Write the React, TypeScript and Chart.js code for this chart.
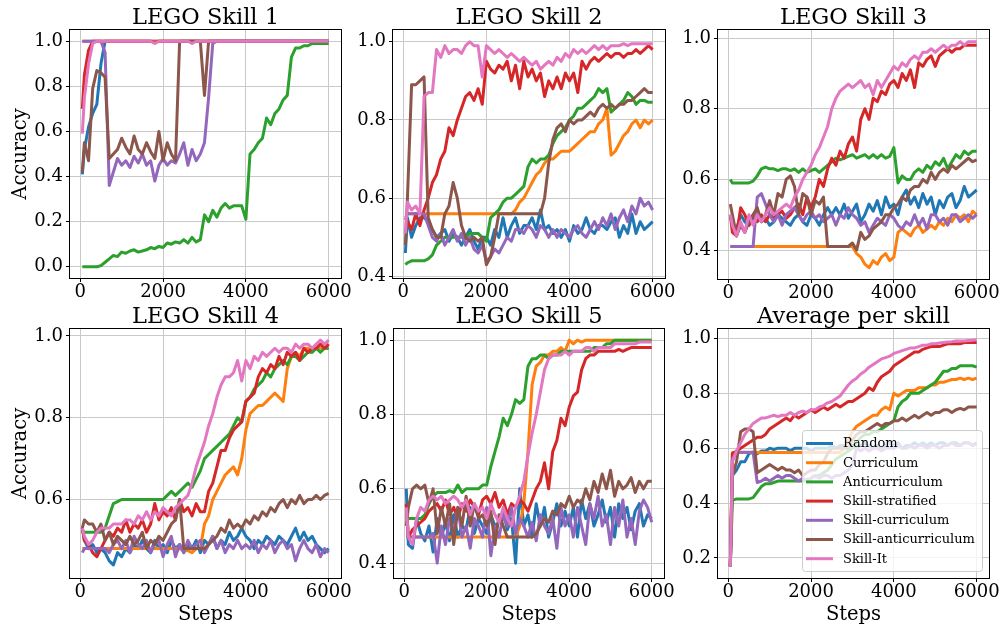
import React, { useEffect, useRef } from 'react';
import { Chart, registerables } from 'chart.js';

Chart.register(...registerables);

const FONT = "'DejaVu Serif', serif";

const STEPS = [50, 100, 200, 300, 400, 500, 600, 700, 800, 900,
  1000, 1100, 1200, 1300, 1400, 1500, 1600, 1700, 1800, 1900,
  2000, 2100, 2200, 2300, 2400, 2500, 2600, 2700, 2800, 2900,
  3000, 3100, 3200, 3300, 3400, 3500, 3600, 3700, 3800, 3900,
  4000, 4100, 4200, 4300, 4400, 4500, 4600, 4700, 4800, 4900,
  5000, 5100, 5200, 5300, 5400, 5500, 5600, 5700, 5800, 5900,
  6000];

const SERIES_NAMES = ['Random', 'Curriculum', 'Anticurriculum', 'Skill-stratified', 'Skill-curriculum', 'Skill-anticurriculum', 'Skill-It'];
const SERIES_COLORS = ['#1f77b4', '#ff7f0e', '#2ca02c', '#d62728', '#9467bd', '#8c564b', '#e377c2'];

const X_TICKS = [0, 2000, 4000, 6000];
const Y_TICKS_S1 = [0, 0.2, 0.4, 0.6, 0.8, 1.0];
const Y_TICKS_S2 = [0.4, 0.6, 0.8, 1.0];
const Y_TICKS_S3 = [0.4, 0.6, 0.8, 1.0];
const Y_TICKS_S4 = [0.6, 0.8, 1.0];
const Y_TICKS_S5 = [0.4, 0.6, 0.8, 1.0];
const Y_TICKS_AVG = [0.2, 0.4, 0.6, 0.8, 1.0];

// ---------------- LEGO Skill 1 ----------------
const S1_RANDOM = [0.41, 0.52, 0.62, 0.68, 0.72, 0.9, 1, 1, 1, 1,
  1, 1, 1, 1, 1, 1, 1, 1, 1, 1,
  1, 1, 1, 1, 1, 1, 1, 1, 1, 1,
  1, 1, 1, 1, 1, 1, 1, 1, 1, 1,
  1, 1, 1, 1, 1, 1, 1, 1, 1, 1,
  1, 1, 1, 1, 1, 1, 1, 1, 1, 1,
  1];
const S1_CURRICULUM = [1, 1, 1, 1, 1, 1, 1, 1, 1, 1,
  1, 1, 1, 1, 1, 1, 1, 1, 1, 1,
  1, 1, 1, 1, 1, 1, 1, 1, 1, 1,
  1, 1, 1, 1, 1, 1, 1, 1, 1, 1,
  1, 1, 1, 1, 1, 1, 1, 1, 1, 1,
  1, 1, 1, 1, 1, 1, 1, 1, 1, 1,
  1];
const S1_ANTI = [0, 0, 0, 0, 0, 0.005, 0.02, 0.035, 0.05, 0.045,
  0.065, 0.06, 0.07, 0.075, 0.065, 0.07, 0.075, 0.085, 0.08, 0.09,
  0.085, 0.105, 0.1, 0.11, 0.105, 0.12, 0.105, 0.13, 0.11, 0.12,
  0.23, 0.2, 0.25, 0.22, 0.26, 0.28, 0.26, 0.27, 0.27, 0.27,
  0.21, 0.5, 0.52, 0.55, 0.57, 0.66, 0.63, 0.68, 0.7, 0.74,
  0.76, 0.93, 0.97, 0.97, 0.98, 0.98, 0.99, 0.99, 0.99, 0.99,
  0.99];
const S1_STRAT = [0.7, 0.85, 0.96, 1, 1, 1, 1, 1, 1, 1,
  1, 1, 1, 1, 1, 1, 1, 1, 0.995, 1,
  1, 1, 1, 1, 1, 1, 1, 1, 1, 1,
  1, 1, 1, 1, 1, 1, 1, 1, 1, 1,
  1, 1, 1, 1, 1, 1, 1, 1, 1, 1,
  1, 1, 1, 1, 1, 1, 1, 1, 1, 1,
  1];
const S1_SKILLCURR = [1, 1, 1, 1, 1, 1, 0.95, 0.36, 0.42, 0.48,
  0.45, 0.47, 0.44, 0.49, 0.46, 0.5, 0.45, 0.47, 0.38, 0.45,
  0.48, 0.45, 0.47, 0.46, 0.5, 0.55, 0.45, 0.52, 0.47, 0.5,
  0.55, 0.75, 0.99, 1, 1, 1, 1, 1, 1, 1,
  1, 1, 1, 1, 1, 1, 1, 1, 1, 1,
  1, 1, 1, 1, 1, 1, 1, 1, 1, 1,
  1];
const S1_SKILLANTI = [0.42, 0.55, 0.47, 0.79, 0.87, 0.86, 0.84, 0.48, 0.5, 0.52,
  0.57, 0.53, 0.5, 0.58, 0.52, 0.5, 0.55, 0.51, 0.48, 0.6,
  0.47, 0.55, 0.5, 0.47, 1, 1, 1, 1, 1, 1,
  0.76, 1, 1, 1, 1, 1, 1, 1, 1, 1,
  1, 1, 1, 1, 1, 1, 1, 1, 1, 1,
  1, 1, 1, 1, 1, 1, 1, 1, 1, 1,
  1];
const S1_SKILLIT = [0.59, 0.75, 0.9, 0.99, 1, 1, 1, 1, 1, 1,
  1, 1, 1, 1, 1, 1, 1, 1, 0.99, 1,
  1, 1, 1, 1, 1, 1, 1, 0.99, 1, 1,
  1, 1, 1, 1, 1, 1, 1, 1, 1, 1,
  1, 1, 1, 1, 1, 1, 1, 1, 1, 1,
  1, 1, 1, 1, 1, 1, 1, 1, 1, 1,
  1];

// ---------------- LEGO Skill 2 ----------------
const S2_RANDOM = [0.46, 0.55, 0.5, 0.53, 0.55, 0.55, 0.54, 0.52, 0.5, 0.51,
  0.52, 0.49, 0.51, 0.5, 0.48, 0.5, 0.52, 0.49, 0.47, 0.5,
  0.5, 0.48, 0.52, 0.5, 0.55, 0.5, 0.53, 0.55, 0.51, 0.53,
  0.53, 0.55, 0.52, 0.57, 0.52, 0.53, 0.51, 0.52, 0.5, 0.52,
  0.49, 0.53, 0.51, 0.52, 0.55, 0.52, 0.51, 0.53, 0.53, 0.52,
  0.54, 0.55, 0.5, 0.53, 0.51, 0.56, 0.51, 0.54, 0.52, 0.53,
  0.54];
const S2_CURRICULUM = [0.56, 0.56, 0.56, 0.56, 0.56, 0.56, 0.56, 0.56, 0.56, 0.56,
  0.56, 0.56, 0.56, 0.56, 0.56, 0.56, 0.56, 0.56, 0.56, 0.56,
  0.56, 0.56, 0.56, 0.56, 0.56, 0.56, 0.56, 0.57, 0.59, 0.6,
  0.62, 0.64, 0.66, 0.67, 0.69, 0.7, 0.7, 0.71, 0.72, 0.72,
  0.72, 0.73, 0.74, 0.75, 0.76, 0.77, 0.77, 0.79, 0.8, 0.83,
  0.71, 0.72, 0.74, 0.76, 0.77, 0.79, 0.8, 0.78, 0.8, 0.79,
  0.8];
const S2_ANTI = [0.43, 0.435, 0.44, 0.44, 0.44, 0.44, 0.445, 0.455, 0.48, 0.49,
  0.5, 0.5, 0.5, 0.5, 0.5, 0.5, 0.51, 0.51, 0.51, 0.5,
  0.49, 0.55, 0.56, 0.57, 0.59, 0.6, 0.6, 0.61, 0.62, 0.63,
  0.68, 0.7, 0.69, 0.7, 0.7, 0.71, 0.74, 0.76, 0.77, 0.78,
  0.8, 0.81, 0.83, 0.83, 0.84, 0.85, 0.86, 0.88, 0.87, 0.88,
  0.82, 0.83, 0.84, 0.85, 0.87, 0.86, 0.84, 0.85, 0.85, 0.845,
  0.845];
const S2_STRAT = [0.55, 0.54, 0.52, 0.56, 0.53, 0.57, 0.6, 0.64, 0.66, 0.7,
  0.72, 0.78, 0.76, 0.8, 0.83, 0.86, 0.87, 0.85, 0.88, 0.84,
  0.95, 0.93, 0.92, 0.94, 0.93, 0.95, 0.9, 0.94, 0.88, 0.95,
  0.91, 0.93, 0.9, 0.92, 0.86, 0.9, 0.88, 0.91, 0.88, 0.92,
  0.9, 0.92, 0.87, 0.95, 0.93, 0.95, 0.96, 0.95, 0.96, 0.97,
  0.96, 0.97, 0.97, 0.96, 0.97, 0.97, 0.98, 0.97, 0.98, 0.99,
  0.98];
const S2_SKILLCURR = [0.55, 0.56, 0.56, 0.56, 0.56, 0.56, 0.53, 0.5, 0.49, 0.51,
  0.48, 0.5, 0.52, 0.49, 0.51, 0.48, 0.5, 0.47, 0.46, 0.48,
  0.44, 0.45, 0.47, 0.46, 0.48, 0.5, 0.49, 0.52, 0.52, 0.51,
  0.53, 0.52, 0.5, 0.53, 0.52, 0.5, 0.52, 0.5, 0.52, 0.51,
  0.5, 0.52, 0.53, 0.51, 0.5, 0.52, 0.54, 0.52, 0.55, 0.53,
  0.56, 0.52, 0.55, 0.57, 0.54, 0.58, 0.56, 0.6, 0.58, 0.59,
  0.57];
const S2_SKILLANTI = [0.48, 0.6, 0.89, 0.89, 0.9, 0.91, 0.55, 0.52, 0.5, 0.5,
  0.56, 0.58, 0.64, 0.6, 0.53, 0.5, 0.49, 0.5, 0.49, 0.5,
  0.43, 0.45, 0.5, 0.56, 0.56, 0.56, 0.56, 0.56, 0.56, 0.56,
  0.56, 0.56, 0.56, 0.56, 0.6, 0.69, 0.75, 0.78, 0.79, 0.77,
  0.8, 0.79, 0.8, 0.8, 0.81, 0.82, 0.81, 0.83, 0.84, 0.83,
  0.84, 0.83, 0.84, 0.84, 0.85, 0.85, 0.86, 0.87, 0.88, 0.87,
  0.87];
const S2_SKILLIT = [0.51, 0.59, 0.57, 0.58, 0.56, 0.86, 0.87, 0.87, 0.98, 0.96,
  0.99, 0.97, 0.98, 0.98, 0.97, 0.99, 1, 0.99, 0.99, 0.91,
  0.99, 0.98, 0.97, 0.98, 0.97, 0.96, 0.97, 0.96, 0.95, 0.96,
  0.95, 0.94, 0.95, 0.93, 0.94, 0.95, 0.94, 0.96, 0.95, 0.97,
  0.96, 0.98, 0.97, 0.98, 0.97, 0.98, 0.99, 0.98, 0.99, 0.98,
  0.99, 0.99, 0.99, 0.995, 0.99, 0.995, 0.995, 0.995, 0.995, 0.995,
  0.995];

// ---------------- LEGO Skill 3 ----------------
const S3_RANDOM = [0.5, 0.47, 0.46, 0.5, 0.48, 0.47, 0.49, 0.5, 0.48, 0.49,
  0.47, 0.48, 0.5, 0.49, 0.48, 0.47, 0.49, 0.5, 0.48, 0.47,
  0.5, 0.49, 0.47, 0.5, 0.52, 0.5, 0.52, 0.5, 0.53, 0.49,
  0.51, 0.53, 0.48, 0.5, 0.53, 0.51, 0.54, 0.5, 0.55, 0.52,
  0.53, 0.5, 0.55, 0.57, 0.53, 0.55, 0.52, 0.56, 0.53, 0.55,
  0.5, 0.54, 0.52, 0.55, 0.56, 0.52, 0.54, 0.58, 0.55, 0.56,
  0.57];
const S3_CURRICULUM = [0.41, 0.41, 0.41, 0.41, 0.41, 0.41, 0.41, 0.41, 0.41, 0.41,
  0.41, 0.41, 0.41, 0.41, 0.41, 0.41, 0.41, 0.41, 0.41, 0.41,
  0.41, 0.41, 0.41, 0.41, 0.41, 0.41, 0.41, 0.41, 0.41, 0.41,
  0.41, 0.39, 0.38, 0.36, 0.35, 0.37, 0.36, 0.38, 0.39, 0.37,
  0.38, 0.45, 0.46, 0.45, 0.44, 0.46, 0.47, 0.45, 0.46, 0.47,
  0.46, 0.48, 0.47, 0.49, 0.48, 0.5, 0.49, 0.5, 0.48, 0.51,
  0.5];
const S3_ANTI = [0.6, 0.59, 0.59, 0.59, 0.59, 0.59, 0.595, 0.61, 0.63, 0.635,
  0.63, 0.63, 0.625, 0.63, 0.63, 0.625, 0.63, 0.62, 0.63, 0.62,
  0.625, 0.63, 0.62, 0.63, 0.64, 0.65, 0.66, 0.655, 0.66, 0.665,
  0.67, 0.66, 0.665, 0.67, 0.66, 0.67, 0.66, 0.67, 0.66, 0.665,
  0.69, 0.59, 0.61, 0.6, 0.6, 0.62, 0.63, 0.62, 0.64, 0.63,
  0.65, 0.64, 0.66, 0.63, 0.65, 0.67, 0.66, 0.68, 0.67, 0.68,
  0.68];
const S3_STRAT = [0.5, 0.45, 0.44, 0.52, 0.5, 0.47, 0.5, 0.48, 0.5, 0.48,
  0.5, 0.49, 0.5, 0.51, 0.49, 0.5, 0.52, 0.53, 0.5, 0.55,
  0.52, 0.55, 0.6, 0.58, 0.63, 0.66, 0.64, 0.68, 0.66, 0.7,
  0.72, 0.68, 0.77, 0.8, 0.77, 0.83, 0.82, 0.85, 0.84, 0.87,
  0.88, 0.86, 0.9, 0.88, 0.91, 0.86, 0.93, 0.92, 0.94, 0.95,
  0.92, 0.95, 0.96, 0.97, 0.96, 0.97, 0.97, 0.98, 0.98, 0.98,
  0.98];
const S3_SKILLCURR = [0.41, 0.41, 0.41, 0.41, 0.41, 0.41, 0.41, 0.55, 0.56, 0.53,
  0.5, 0.48, 0.5, 0.47, 0.5, 0.51, 0.52, 0.5, 0.48, 0.5,
  0.51, 0.49, 0.5, 0.48, 0.49, 0.5, 0.47, 0.5, 0.49, 0.52,
  0.5, 0.49, 0.47, 0.48, 0.45, 0.47, 0.49, 0.48, 0.47, 0.5,
  0.49, 0.47, 0.46, 0.48, 0.47, 0.5, 0.47, 0.49, 0.46, 0.5,
  0.5, 0.48, 0.49, 0.47, 0.5, 0.5, 0.48, 0.49, 0.5, 0.49,
  0.5];
const S3_SKILLANTI = [0.53, 0.5, 0.44, 0.47, 0.45, 0.48, 0.5, 0.52, 0.48, 0.5,
  0.54, 0.5, 0.56, 0.55, 0.6, 0.61, 0.58, 0.5, 0.56, 0.55,
  0.5, 0.54, 0.53, 0.55, 0.41, 0.41, 0.41, 0.41, 0.41, 0.41,
  0.42, 0.4, 0.45, 0.43, 0.44, 0.46, 0.47, 0.48, 0.5, 0.5,
  0.52, 0.53, 0.55, 0.54, 0.57, 0.58, 0.58, 0.6, 0.59, 0.62,
  0.6, 0.62, 0.63, 0.62, 0.64, 0.63, 0.64, 0.65, 0.66, 0.65,
  0.655];
const S3_SKILLIT = [0.5, 0.47, 0.44, 0.48, 0.45, 0.5, 0.47, 0.5, 0.48, 0.5,
  0.52, 0.5, 0.51, 0.52, 0.53, 0.52, 0.55, 0.57, 0.6, 0.62,
  0.64, 0.67, 0.69, 0.72, 0.75, 0.8, 0.83, 0.85, 0.86, 0.87,
  0.86, 0.87, 0.88, 0.86, 0.87, 0.84, 0.88, 0.86, 0.88, 0.9,
  0.92, 0.91, 0.93, 0.92, 0.94, 0.95, 0.94, 0.96, 0.96, 0.97,
  0.96, 0.97, 0.98, 0.97, 0.98, 0.98, 0.99, 0.98, 0.99, 0.99,
  0.99];

// ---------------- LEGO Skill 4 ----------------
const S4_RANDOM = [0.53, 0.5, 0.48, 0.49, 0.47, 0.48, 0.47, 0.45, 0.44, 0.47,
  0.46, 0.48, 0.47, 0.49, 0.48, 0.5, 0.48, 0.47, 0.5, 0.48,
  0.49, 0.47, 0.5, 0.48, 0.49, 0.47, 0.49, 0.48, 0.5, 0.47,
  0.5, 0.49, 0.51, 0.48, 0.5, 0.49, 0.52, 0.5, 0.51, 0.53,
  0.51, 0.5, 0.48, 0.5, 0.49, 0.51, 0.5, 0.49, 0.51, 0.5,
  0.49, 0.51, 0.53, 0.5, 0.52, 0.5, 0.51, 0.49, 0.48, 0.47,
  0.48];
const S4_CURRICULUM = [0.48, 0.48, 0.48, 0.48, 0.48, 0.48, 0.48, 0.48, 0.48, 0.48,
  0.48, 0.48, 0.48, 0.48, 0.48, 0.48, 0.48, 0.48, 0.48, 0.48,
  0.48, 0.48, 0.48, 0.48, 0.48, 0.475, 0.475, 0.47, 0.48, 0.48,
  0.54, 0.56, 0.6, 0.62, 0.64, 0.66, 0.67, 0.68, 0.66, 0.7,
  0.77, 0.81, 0.82, 0.83, 0.83, 0.84, 0.85, 0.86, 0.85, 0.84,
  0.92, 0.95, 0.96, 0.95, 0.97, 0.97, 0.96, 0.97, 0.97, 0.97,
  0.97];
const S4_ANTI = [0.52, 0.52, 0.52, 0.52, 0.52, 0.52, 0.53, 0.56, 0.59, 0.595,
  0.6, 0.6, 0.6, 0.6, 0.6, 0.6, 0.6, 0.6, 0.6, 0.6,
  0.6, 0.61, 0.62, 0.61, 0.62, 0.63, 0.64, 0.63, 0.65, 0.67,
  0.7, 0.71, 0.72, 0.73, 0.74, 0.75, 0.76, 0.78, 0.8, 0.79,
  0.84, 0.85, 0.87, 0.88, 0.89, 0.91, 0.9, 0.92, 0.93, 0.94,
  0.93, 0.95, 0.95, 0.94, 0.95, 0.96, 0.96, 0.97, 0.96, 0.97,
  0.97];
const S4_STRAT = [0.53, 0.5, 0.49, 0.47, 0.46, 0.48, 0.5, 0.52, 0.51, 0.53,
  0.52, 0.55, 0.52, 0.54, 0.53, 0.55, 0.52, 0.54, 0.59, 0.55,
  0.57, 0.56, 0.58, 0.55, 0.6, 0.57, 0.58, 0.56, 0.59, 0.57,
  0.57, 0.62, 0.64, 0.68, 0.72, 0.72, 0.75, 0.77, 0.78, 0.79,
  0.84, 0.85, 0.86, 0.9, 0.92, 0.91, 0.93, 0.92, 0.95, 0.93,
  0.96, 0.95, 0.96, 0.94, 0.97, 0.96, 0.97, 0.97, 0.98, 0.97,
  0.98];
const S4_SKILLCURR = [0.47, 0.48, 0.48, 0.48, 0.48, 0.48, 0.48, 0.47, 0.49, 0.5,
  0.48, 0.5, 0.47, 0.51, 0.49, 0.48, 0.5, 0.47, 0.49, 0.5,
  0.46, 0.49, 0.51, 0.46, 0.49, 0.47, 0.5, 0.48, 0.49, 0.5,
  0.47, 0.49, 0.51, 0.48, 0.5, 0.47, 0.49, 0.48, 0.5, 0.48,
  0.49, 0.48, 0.5, 0.47, 0.49, 0.48, 0.5, 0.47, 0.49, 0.5,
  0.48, 0.49, 0.45, 0.48, 0.5, 0.48, 0.47, 0.49, 0.46, 0.48,
  0.47];
const S4_SKILLANTI = [0.53, 0.55, 0.54, 0.54, 0.52, 0.54, 0.5, 0.52, 0.49, 0.51,
  0.5, 0.49, 0.51, 0.49, 0.5, 0.52, 0.48, 0.5, 0.49, 0.51,
  0.5, 0.52, 0.54, 0.55, 0.6, 0.48, 0.48, 0.48, 0.48, 0.48,
  0.48, 0.49, 0.5, 0.51, 0.53, 0.52, 0.55, 0.53, 0.54, 0.53,
  0.55, 0.54, 0.56, 0.55, 0.57, 0.56, 0.58, 0.57, 0.59, 0.6,
  0.58, 0.6, 0.59, 0.61, 0.59, 0.6, 0.6, 0.61, 0.6, 0.61,
  0.615];
const S4_SKILLIT = [0.53, 0.51, 0.49, 0.5, 0.52, 0.53, 0.53, 0.53, 0.54, 0.54,
  0.54, 0.55, 0.55, 0.54, 0.56, 0.55, 0.57, 0.55, 0.57, 0.56,
  0.58, 0.57, 0.56, 0.58, 0.59, 0.6, 0.61, 0.64, 0.68, 0.71,
  0.74, 0.78, 0.81, 0.85, 0.88, 0.9, 0.9, 0.91, 0.94, 0.89,
  0.94, 0.92, 0.95, 0.94, 0.96, 0.95, 0.96, 0.97, 0.96, 0.97,
  0.97, 0.96, 0.98, 0.97, 0.98, 0.98, 0.97, 0.98, 0.99, 0.98,
  0.99];

// ---------------- LEGO Skill 5 ----------------
const S5_RANDOM = [0.6, 0.45, 0.44, 0.52, 0.48, 0.46, 0.5, 0.43, 0.52, 0.47,
  0.51, 0.46, 0.53, 0.47, 0.5, 0.49, 0.55, 0.48, 0.52, 0.5,
  0.48, 0.53, 0.5, 0.51, 0.54, 0.49, 0.52, 0.4, 0.6, 0.5,
  0.53, 0.47, 0.56, 0.5, 0.55, 0.47, 0.51, 0.56, 0.5, 0.54,
  0.5, 0.55, 0.47, 0.57, 0.52, 0.56, 0.5, 0.53, 0.57, 0.51,
  0.55, 0.47, 0.56, 0.52, 0.55, 0.49, 0.54, 0.56, 0.5, 0.53,
  0.52];
const S5_CURRICULUM = [0.47, 0.47, 0.47, 0.47, 0.47, 0.47, 0.47, 0.47, 0.47, 0.47,
  0.47, 0.47, 0.47, 0.47, 0.47, 0.47, 0.47, 0.47, 0.47, 0.47,
  0.47, 0.47, 0.47, 0.47, 0.47, 0.47, 0.47, 0.47, 0.5, 0.56,
  0.7, 0.88, 0.93, 0.94, 0.96, 0.96, 0.97, 0.97, 0.98, 0.97,
  1, 0.99, 1, 0.995, 1, 1, 1, 1, 1, 1,
  1, 1, 1, 1, 1, 1, 1, 1, 1, 1,
  1];
const S5_ANTI = [0.53, 0.52, 0.52, 0.52, 0.52, 0.53, 0.56, 0.58, 0.59, 0.59,
  0.59, 0.595, 0.59, 0.61, 0.59, 0.6, 0.6, 0.6, 0.6, 0.61,
  0.61, 0.66, 0.7, 0.74, 0.79, 0.77, 0.8, 0.84, 0.83, 0.84,
  0.93, 0.95, 0.95, 0.96, 0.96, 0.95, 0.96, 0.96, 0.97, 0.97,
  0.97, 0.97, 0.97, 0.97, 0.97, 0.97, 0.98, 0.98, 0.98, 0.99,
  0.99, 1, 1, 1, 1, 1, 1, 1, 1, 1,
  1];
const S5_STRAT = [0.56, 0.47, 0.49, 0.5, 0.51, 0.52, 0.54, 0.55, 0.56, 0.54,
  0.57, 0.53, 0.55, 0.52, 0.56, 0.54, 0.57, 0.55, 0.53, 0.57,
  0.58, 0.56, 0.59, 0.55, 0.57, 0.53, 0.56, 0.55, 0.57, 0.56,
  0.54, 0.57, 0.6, 0.62, 0.67, 0.6, 0.7, 0.73, 0.79, 0.77,
  0.82, 0.85, 0.86, 0.92, 0.95, 0.96, 0.96, 0.97, 0.97, 0.97,
  0.97, 0.97, 0.975, 0.97, 0.975, 0.98, 0.98, 0.98, 0.98, 0.98,
  0.98];
const S5_SKILLCURR = [0.47, 0.47, 0.47, 0.47, 0.47, 0.47, 0.47, 0.48, 0.4, 0.5,
  0.45, 0.52, 0.48, 0.55, 0.47, 0.5, 0.44, 0.52, 0.5, 0.47,
  0.55, 0.42, 0.5, 0.47, 0.53, 0.5, 0.55, 0.48, 0.52, 0.5,
  0.47, 0.51, 0.46, 0.53, 0.5, 0.48, 0.52, 0.44, 0.55, 0.5,
  0.53, 0.47, 0.55, 0.5, 0.45, 0.56, 0.52, 0.58, 0.5, 0.53,
  0.45, 0.55, 0.5, 0.57, 0.47, 0.52, 0.45, 0.54, 0.57, 0.55,
  0.51];
const S5_SKILLANTI = [0.5, 0.55, 0.6, 0.61, 0.6, 0.61, 0.56, 0.6, 0.48, 0.55,
  0.5, 0.56, 0.45, 0.55, 0.5, 0.58, 0.5, 0.56, 0.52, 0.53,
  0.5, 0.54, 0.45, 0.53, 0.5, 0.47, 0.47, 0.47, 0.47, 0.47,
  0.47, 0.47, 0.48, 0.5, 0.52, 0.51, 0.54, 0.53, 0.56, 0.55,
  0.58, 0.55, 0.57, 0.56, 0.6, 0.57, 0.62, 0.59, 0.64, 0.6,
  0.65, 0.58, 0.62, 0.6, 0.61, 0.63, 0.59, 0.62, 0.6, 0.62,
  0.62];
const S5_SKILLIT = [0.55, 0.47, 0.45, 0.52, 0.55, 0.54, 0.57, 0.58, 0.57, 0.58,
  0.56, 0.57, 0.58, 0.57, 0.55, 0.57, 0.53, 0.56, 0.54, 0.55,
  0.52, 0.56, 0.53, 0.51, 0.55, 0.52, 0.5, 0.55, 0.58, 0.62,
  0.69, 0.75, 0.8, 0.86, 0.92, 0.95, 0.96, 0.96, 0.96, 0.97,
  0.96, 0.97, 0.97, 0.97, 0.98, 0.98, 0.97, 0.98, 0.98, 0.98,
  0.98, 0.99, 0.99, 0.99, 0.99, 0.99, 0.99, 0.995, 0.995, 0.995,
  0.995];

// ---------------- Average per skill ----------------
const AVG_RANDOM = [0.17, 0.5, 0.52, 0.55, 0.55, 0.58, 0.585, 0.58, 0.59, 0.59,
  0.6, 0.595, 0.6, 0.6, 0.6, 0.59, 0.6, 0.6, 0.6, 0.6,
  0.59, 0.6, 0.6, 0.6, 0.6, 0.61, 0.6, 0.61, 0.61, 0.6,
  0.61, 0.6, 0.61, 0.62, 0.61, 0.6, 0.61, 0.6, 0.61, 0.62,
  0.61, 0.62, 0.6, 0.61, 0.61, 0.62, 0.61, 0.62, 0.61, 0.62,
  0.61, 0.62, 0.62, 0.61, 0.62, 0.62, 0.61, 0.62, 0.62, 0.61,
  0.62];
const AVG_CURRICULUM = [0.17, 0.584, 0.584, 0.584, 0.584, 0.584, 0.584, 0.584, 0.584, 0.584,
  0.584, 0.584, 0.584, 0.584, 0.584, 0.584, 0.584, 0.584, 0.584, 0.584,
  0.584, 0.584, 0.584, 0.584, 0.584, 0.584, 0.584, 0.584, 0.6, 0.63,
  0.66, 0.68, 0.69, 0.7, 0.71, 0.72, 0.72, 0.74, 0.75, 0.74,
  0.8, 0.79, 0.8, 0.81, 0.81, 0.81, 0.82, 0.82, 0.82, 0.83,
  0.83, 0.84, 0.84, 0.845, 0.85, 0.85, 0.855, 0.85, 0.855, 0.85,
  0.855];
const AVG_ANTI = [0.17, 0.41, 0.415, 0.415, 0.415, 0.415, 0.42, 0.44, 0.46, 0.47,
  0.47, 0.475, 0.48, 0.48, 0.48, 0.48, 0.48, 0.48, 0.48, 0.485,
  0.49, 0.5, 0.5, 0.51, 0.52, 0.54, 0.56, 0.57, 0.58, 0.59,
  0.6, 0.62, 0.64, 0.65, 0.65, 0.66, 0.66, 0.67, 0.68, 0.69,
  0.7, 0.75, 0.77, 0.78, 0.8, 0.8, 0.8, 0.81, 0.82, 0.83,
  0.84, 0.86, 0.88, 0.88, 0.89, 0.89, 0.9, 0.9, 0.9, 0.9,
  0.895];
const AVG_STRAT = [0.17, 0.58, 0.59, 0.6, 0.61, 0.62, 0.63, 0.64, 0.64, 0.65,
  0.67, 0.68, 0.69, 0.7, 0.71, 0.7, 0.72, 0.71, 0.72, 0.73,
  0.74, 0.73, 0.74, 0.75, 0.74, 0.75, 0.76, 0.75, 0.76, 0.77,
  0.77, 0.78, 0.79, 0.8, 0.82, 0.81, 0.84, 0.86, 0.87, 0.88,
  0.9, 0.91, 0.92, 0.93, 0.94, 0.95, 0.95, 0.96, 0.965, 0.97,
  0.97, 0.97, 0.975, 0.98, 0.98, 0.98, 0.98, 0.985, 0.985, 0.985,
  0.985];
const AVG_SKILLCURR = [0.17, 0.56, 0.585, 0.585, 0.585, 0.585, 0.585, 0.475, 0.48, 0.49,
  0.48, 0.49, 0.5, 0.49, 0.5, 0.5, 0.49, 0.48, 0.49, 0.48,
  0.49, 0.5, 0.49, 0.5, 0.5, 0.49, 0.5, 0.5, 0.51, 0.52,
  0.54, 0.6, 0.59, 0.6, 0.59, 0.6, 0.6, 0.59, 0.6, 0.6,
  0.6, 0.61, 0.6, 0.6, 0.61, 0.6, 0.61, 0.61, 0.6, 0.61,
  0.61, 0.6, 0.61, 0.61, 0.62, 0.61, 0.61, 0.62, 0.62, 0.61,
  0.615];
const AVG_SKILLANTI = [0.17, 0.5, 0.55, 0.66, 0.67, 0.67, 0.66, 0.51, 0.52, 0.53,
  0.54, 0.53, 0.52, 0.53, 0.52, 0.52, 0.51, 0.52, 0.5, 0.51,
  0.52, 0.52, 0.54, 0.55, 0.58, 0.6, 0.6, 0.6, 0.6, 0.6,
  0.63, 0.65, 0.66, 0.66, 0.67, 0.68, 0.69, 0.68, 0.69, 0.69,
  0.7, 0.7, 0.71, 0.7, 0.71, 0.72, 0.71, 0.72, 0.73, 0.72,
  0.73, 0.73, 0.74, 0.74, 0.73, 0.74, 0.745, 0.74, 0.75, 0.75,
  0.75];
const AVG_SKILLIT = [0.17, 0.55, 0.59, 0.62, 0.65, 0.67, 0.69, 0.7, 0.71, 0.71,
  0.715, 0.72, 0.715, 0.72, 0.72, 0.73, 0.72, 0.73, 0.735, 0.73,
  0.74, 0.74, 0.75, 0.755, 0.765, 0.77, 0.78, 0.79, 0.81, 0.83,
  0.845, 0.855, 0.87, 0.88, 0.895, 0.905, 0.915, 0.925, 0.93, 0.935,
  0.945, 0.95, 0.955, 0.96, 0.965, 0.965, 0.97, 0.975, 0.975, 0.98,
  0.98, 0.983, 0.985, 0.987, 0.988, 0.99, 0.99, 0.99, 0.992, 0.993,
  0.995];

type PanelCfg = {
  title: string;
  left: number; top: number; w: number; h: number;
  yMin: number; yMax: number; yTicks: number[];
  series: number[][];
  yLabel: boolean; xLabel: boolean; legend: boolean;
};

const PANELS: PanelCfg[] = [
  { title: 'LEGO Skill 1', left: 70, top: 30, w: 271, h: 248, yMin: -0.05, yMax: 1.05, yTicks: Y_TICKS_S1,
    series: [S1_RANDOM, S1_CURRICULUM, S1_ANTI, S1_STRAT, S1_SKILLCURR, S1_SKILLANTI, S1_SKILLIT], yLabel: true, xLabel: false, legend: false },
  { title: 'LEGO Skill 2', left: 393, top: 30, w: 272, h: 248, yMin: 0.396, yMax: 1.03, yTicks: Y_TICKS_S2,
    series: [S2_RANDOM, S2_CURRICULUM, S2_ANTI, S2_STRAT, S2_SKILLCURR, S2_SKILLANTI, S2_SKILLIT], yLabel: false, xLabel: false, legend: false },
  { title: 'LEGO Skill 3', left: 718, top: 30, w: 271, h: 249, yMin: 0.318, yMax: 1.023, yTicks: Y_TICKS_S3,
    series: [S3_RANDOM, S3_CURRICULUM, S3_ANTI, S3_STRAT, S3_SKILLCURR, S3_SKILLANTI, S3_SKILLIT], yLabel: false, xLabel: false, legend: false },
  { title: 'LEGO Skill 4', left: 70, top: 329, w: 271, h: 249, yMin: 0.408, yMax: 1.017, yTicks: Y_TICKS_S4,
    series: [S4_RANDOM, S4_CURRICULUM, S4_ANTI, S4_STRAT, S4_SKILLCURR, S4_SKILLANTI, S4_SKILLIT], yLabel: true, xLabel: true, legend: false },
  { title: 'LEGO Skill 5', left: 394, top: 329, w: 270, h: 249, yMin: 0.36, yMax: 1.03, yTicks: Y_TICKS_S5,
    series: [S5_RANDOM, S5_CURRICULUM, S5_ANTI, S5_STRAT, S5_SKILLCURR, S5_SKILLANTI, S5_SKILLIT], yLabel: false, xLabel: true, legend: false },
  { title: 'Average per skill', left: 718, top: 329, w: 271, h: 249, yMin: 0.127, yMax: 1.034, yTicks: Y_TICKS_AVG,
    series: [AVG_RANDOM, AVG_CURRICULUM, AVG_ANTI, AVG_STRAT, AVG_SKILLCURR, AVG_SKILLANTI, AVG_SKILLIT], yLabel: false, xLabel: true, legend: true },
];

const PAD_L = 70;
const PAD_T = 30;
const PAD_R = 15;
const PAD_B = 50;

const framePlugin = {
  id: 'axesFrame',
  afterDatasetsDraw(chart: any) {
    const { ctx, chartArea } = chart;
    const l = Math.round(chartArea.left), t = Math.round(chartArea.top);
    const r = Math.round(chartArea.right), b = Math.round(chartArea.bottom);
    ctx.save();
    ctx.strokeStyle = '#000';
    ctx.lineWidth = 1;
    ctx.strokeRect(l - 0.5, t - 0.5, r - l + 1, b - t + 1);
    ctx.restore();
  },
};

const insetLegendPlugin = {
  id: 'insetLegend',
  afterDraw(chart: any) {
    const { ctx, chartArea } = chart;
    const w = 180, h = 141;
    const x0 = Math.round(chartArea.right - 7 - w);
    const y0 = Math.round(chartArea.bottom - 7 - h);
    const r = 3;
    ctx.save();
    ctx.beginPath();
    ctx.moveTo(x0 + r + 0.5, y0 + 0.5);
    ctx.lineTo(x0 + w - r + 0.5, y0 + 0.5);
    ctx.quadraticCurveTo(x0 + w + 0.5, y0 + 0.5, x0 + w + 0.5, y0 + r + 0.5);
    ctx.lineTo(x0 + w + 0.5, y0 + h - r + 0.5);
    ctx.quadraticCurveTo(x0 + w + 0.5, y0 + h + 0.5, x0 + w - r + 0.5, y0 + h + 0.5);
    ctx.lineTo(x0 + r + 0.5, y0 + h + 0.5);
    ctx.quadraticCurveTo(x0 + 0.5, y0 + h + 0.5, x0 + 0.5, y0 + h - r + 0.5);
    ctx.lineTo(x0 + 0.5, y0 + r + 0.5);
    ctx.quadraticCurveTo(x0 + 0.5, y0 + 0.5, x0 + r + 0.5, y0 + 0.5);
    ctx.closePath();
    ctx.fillStyle = 'rgba(255,255,255,0.8)';
    ctx.fill();
    ctx.strokeStyle = '#cccccc';
    ctx.lineWidth = 1;
    ctx.stroke();
    ctx.font = `13px ${FONT}`;
    ctx.textBaseline = 'middle';
    ctx.textAlign = 'left';
    chart.data.datasets.forEach((ds: any, i: number) => {
      const cy = y0 + 13.5 + i * 19.2;
      ctx.strokeStyle = ds.borderColor;
      ctx.lineWidth = 3;
      ctx.beginPath();
      ctx.moveTo(x0 + 4, cy);
      ctx.lineTo(x0 + 31, cy);
      ctx.stroke();
      ctx.fillStyle = '#000';
      ctx.fillText(ds.label, x0 + 41, cy + 0.5);
    });
    ctx.restore();
  },
};

function Panel({ cfg }: { cfg: PanelCfg }) {
  const ref = useRef<HTMLCanvasElement>(null);
  const cw = cfg.w + PAD_L + PAD_R;
  const ch = cfg.h + PAD_T + PAD_B;

  useEffect(() => {
    if (!ref.current) return;
    const datasets = cfg.series.map((arr, i) => ({
      label: SERIES_NAMES[i],
      data: STEPS.map((s, j) => ({ x: s, y: arr[j] })),
      borderColor: SERIES_COLORS[i],
      backgroundColor: SERIES_COLORS[i],
      borderWidth: 3,
      pointRadius: 0,
      pointHoverRadius: 0,
      tension: 0,
      fill: false,
      borderJoinStyle: 'round' as const,
      order: SERIES_NAMES.length - 1 - i,
    }));
    const gridColor = '#c9c9c9';
    const chart = new Chart(ref.current, {
      type: 'line',
      data: { datasets },
      options: {
        animation: false,
        responsive: false,
        maintainAspectRatio: false,
        events: [],
        layout: { padding: { left: 0, top: 0, right: PAD_R, bottom: 0 } },
        plugins: {
          legend: { display: false },
          tooltip: { enabled: false },
          title: {
            display: true,
            text: cfg.title,
            color: '#000',
            fullSize: false,
            font: { family: FONT, size: 22.5, weight: 'normal', lineHeight: 1 },
            padding: { top: 7, bottom: 0.5 },
          },
        },
        scales: {
          x: {
            type: 'linear',
            min: -247.5,
            max: 6297.5,
            bounds: 'data',
            afterBuildTicks: (s: any) => { s.ticks = X_TICKS.map((v) => ({ value: v })); },
            afterFit: (s: any) => { s.height = PAD_B; },
            ticks: {
              color: '#000',
              autoSkip: false,
              maxRotation: 0,
              padding: 1,
              font: { family: FONT, size: 18, lineHeight: 1 },
              callback: (v: any) => String(v),
            },
            grid: { color: gridColor, lineWidth: 1, tickColor: '#000', tickLength: 4, tickWidth: 1 },
            border: { display: false },
            title: {
              display: cfg.xLabel,
              text: 'Steps',
              color: '#000',
              font: { family: FONT, size: 19.5 },
              padding: { top: 0, bottom: 1.5 },
            },
          },
          y: {
            type: 'linear',
            min: cfg.yMin,
            max: cfg.yMax,
            bounds: 'data',
            afterBuildTicks: (s: any) => { s.ticks = cfg.yTicks.map((v) => ({ value: v })); },
            afterFit: (s: any) => { s.width = PAD_L; },
            ticks: {
              color: '#000',
              autoSkip: false,
              padding: 3,
              font: { family: FONT, size: 18, lineHeight: 1 },
              callback: (v: any) => Number(v).toFixed(1),
            },
            grid: { color: gridColor, lineWidth: 1, tickColor: '#000', tickLength: 4, tickWidth: 1 },
            border: { display: false },
            title: {
              display: cfg.yLabel,
              text: 'Accuracy',
              color: '#000',
              font: { family: FONT, size: 19.5 },
              padding: { top: 8.8, bottom: 0 },
            },
          },
        },
      } as any,
      plugins: cfg.legend ? [framePlugin, insetLegendPlugin] : [framePlugin],
    });
    return () => chart.destroy();
  }, []);

  return (
    <canvas
      ref={ref}
      width={cw}
      height={ch}
      style={{ position: 'absolute', left: cfg.left - PAD_L, top: cfg.top - PAD_T, width: cw, height: ch, display: 'block' }}
    />
  );
}

export default function App() {
  return (
    <div style={{ position: 'absolute', left: 0, top: 0, width: 1004, height: 629, overflow: 'hidden', background: '#ffffff' }}>
      {PANELS.map((p, i) => (
        <Panel key={i} cfg={p} />
      ))}
    </div>
  );
}
